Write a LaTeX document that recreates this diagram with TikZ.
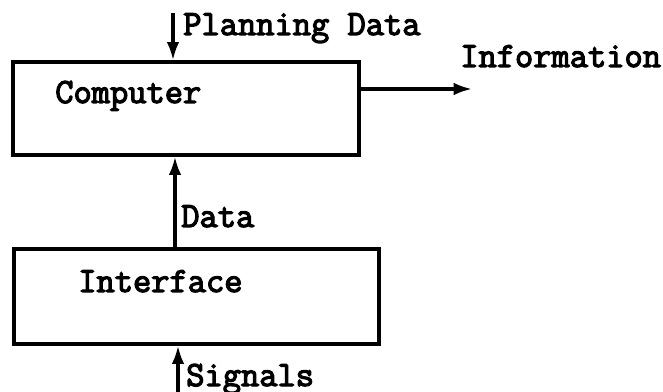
\documentclass[tikz,border=0pt]{standalone}
\usepackage{fontspec}
\newfontfamily\typefont[BoldFont={Latin Modern Mono}, BoldFeatures={FakeBold=3.5}]{Latin Modern Mono}
\usetikzlibrary{arrows.meta, positioning}

\begin{document}
\begin{tikzpicture}[
    x=0.025cm, y=-0.025cm,
    every node/.style={inner sep=0pt},
    lbl/.style={font=\typefont\bfseries\fontsize{25.2}{28}\selectfont, anchor=base west},
    box/.style={draw, line width=2.4pt, fill=white},
    arrow/.style={-{Latex[length=13pt, width=9pt]}, line width=2.3pt}
]
\useasboundingbox (0,0) rectangle (663,392);

% the two blocks
\node[box, minimum width=8.65cm, minimum height=2.325cm] (comp) at (186,108.5) {};
\node[box, minimum width=9.125cm, minimum height=2.375cm] (iface) at (196.5,296.5) {};
\node[lbl] (comptxt) at (55,103) {Computer};
\node[lbl] (ifacetxt) at (78,292) {Interface};

% free ends of the flows
\coordinate (planin) at (173,13);
\coordinate (infoout) at (472,89);
\coordinate (datax) at (175,200);
\coordinate (sigin) at (178,392);

\draw[arrow] (planin) -- (planin |- comp.north);
\draw[arrow] (comp.east |- infoout) -- (infoout);
\draw[arrow] (datax |- iface.north) -- (datax |- comp.south);
\draw[arrow] (sigin) -- (sigin |- iface.south);

\node[lbl] (plantxt) at (183,35) {Planning Data};
\node[lbl] (infotxt) at (460,67) {Information};
\node[lbl] (datatxt) at (181,227) {Data};
\node[lbl] (sigtxt) at (186,386) {Signals};
\end{tikzpicture}
\end{document}
